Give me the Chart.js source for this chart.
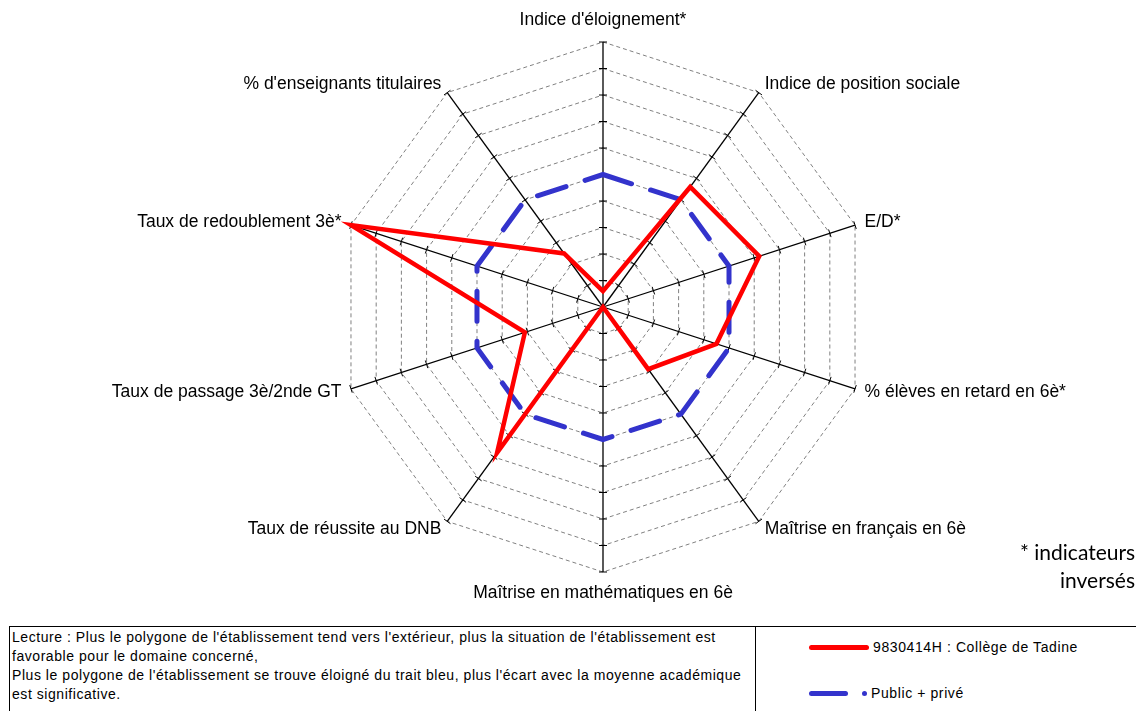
<!DOCTYPE html>
<html>
<head>
<meta charset="utf-8">
<script src="https://cdn.jsdelivr.net/npm/chart.js@4.4.1/dist/chart.umd.min.js"></script>
<style>
  html, body { margin: 0; padding: 0; background: #fff; overflow: hidden; }
  body { width: 1136px; height: 711px; position: relative; font-family: "Liberation Sans", Arial, sans-serif; }
  #chart { position: absolute; left: 0; top: 0; }
  .note { position: absolute; font-family: Lato, "Open Sans", sans-serif; font-size: 21px; line-height: 28px; color: #000; white-space: nowrap; }
  #box { position: absolute; left: 9px; top: 626px; width: 1140px; height: 100px; border-top: 1px solid #000; border-left: 1px solid #000; }
  #lecture { position: absolute; left: 0; top: 0; width: 746px; height: 100px; border-right: 1px solid #000; font-size: 14px; letter-spacing: 0.55px; line-height: 19px; padding: 1px 0 0 2px; box-sizing: border-box; color: #000; white-space: nowrap; }
  #legend { position: absolute; left: 799px; top: 0; font-size: 14px; letter-spacing: 0.6px; color: #000; }
  .item { position: absolute; left: 0; white-space: nowrap; display: flex; align-items: center; }
  .item span { display: inline-block; }
</style>
</head>
<body>
<canvas id="chart" width="1136" height="620"></canvas>
<div class="note" style="left:1020px;top:538px">* indicateurs</div>
<div class="note" style="left:1060px;top:566px">inversés</div>
<div id="box">
  <div id="lecture">Lecture : Plus le polygone de l'établissement tend vers l'extérieur, plus la situation de l'établissement est<br>favorable pour le domaine concerné,<br>Plus le polygone de l'établissement se trouve éloigné du trait bleu, plus l'écart avec la moyenne académique<br>est significative.</div>
  <div id="legend"></div>
</div>
<script>
const categories = [
  "Indice d'éloignement*",
  "Indice de position sociale",
  "E/D*",
  "% élèves en retard en 6è*",
  "Maîtrise en français en 6è",
  "Maîtrise en mathématiques en 6è",
  "Taux de réussite au DNB",
  "Taux de passage 3è/2nde GT",
  "Taux de redoublement 3è*",
  "% d'enseignants titulaires"
];
const collegeValues = [0.6, 5.6, 6.2, 4.5, 2.9, 0, 6.8, 3.1, 10, 2.5];
const academyValues = [5, 5, 5, 5, 5, 5, 5, 5, 5, 5];
const seriesNames = ["9830414H : Collège de Tadine", "Public + privé"];
const scaleMin = 0;
const scaleMax = 10;

const RED = "#ff0000";
const BLUE = "#3333cc";

// fixed geometry of the radar, like the original
const geometry = {
  id: "geometry",
  afterLayout(chart) {
    const s = chart.scales.r;
    s.xCenter = 603;
    s.yCenter = 307;
    s.drawingArea = 265;
  },
  beforeDatasetsDraw(chart) {
    // small tick marks across every spoke
    const s = chart.scales.r;
    const ctx = chart.ctx;
    ctx.save();
    ctx.strokeStyle = "#000";
    ctx.lineWidth = 1;
    for (let i = 0; i < categories.length; i++) {
      for (let v = scaleMin + 1; v <= scaleMax; v++) {
        const d = s.getDistanceFromCenterForValue(v);
        const p = s.getPointPosition(i, d);
        const a = s.getIndexAngle(i);
        const nx = Math.cos(a) * 4, ny = Math.sin(a) * 4;
        ctx.beginPath();
        ctx.moveTo(p.x - nx, p.y - ny);
        ctx.lineTo(p.x + nx, p.y + ny);
        ctx.stroke();
      }
    }
    // axis labels
    ctx.fillStyle = "#000";
    ctx.font = "17.5px 'Liberation Sans', Arial, sans-serif";
    ctx.textBaseline = "middle";
    for (let i = 0; i < categories.length; i++) {
      const p = s.getPointPosition(i, s.drawingArea + 10);
      const a = s.getIndexAngle(i);
      const sx = Math.sin(a);
      let y = p.y;
      if (Math.abs(sx) < 0.1) {
        ctx.textAlign = "center";
        y += Math.cos(a) > 0 ? -12 : 11;
      } else {
        ctx.textAlign = sx > 0 ? "left" : "right";
      }
      ctx.fillText(categories[i], p.x, y);
    }
    ctx.restore();
  }
};

const chart = new Chart(document.getElementById("chart"), {
  type: "radar",
  data: {
    labels: categories,
    datasets: [
      {
        label: seriesNames[0],
        data: collegeValues,
        borderColor: RED,
        borderWidth: 4.5,
        borderJoinStyle: "miter",
        fill: false,
        pointRadius: 0,
        order: 1
      },
      {
        label: seriesNames[1],
        data: academyValues,
        borderColor: BLUE,
        borderWidth: 5,
        borderDash: [30, 20],
        borderCapStyle: "round",
        fill: false,
        pointRadius: 0,
        order: 2
      }
    ]
  },
  options: {
    responsive: false,
    animation: false,
    devicePixelRatio: 1,
    plugins: {
      legend: { display: false },
      tooltip: { enabled: false }
    },
    elements: { line: { tension: 0 } },
    scales: {
      r: {
        min: scaleMin,
        max: scaleMax,
        ticks: { display: false, stepSize: 1 },
        pointLabels: { display: false },
        grid: { color: "#808080", lineWidth: 1 },
        border: { dash: [4, 3] },
        angleLines: { color: "#000", lineWidth: 1.3 }
      }
    }
  },
  plugins: [geometry]
});

// legend in the box, from the datasets
const legend = document.getElementById("legend");
chart.data.datasets.forEach((ds, i) => {
  const item = document.createElement("div");
  item.className = "item";
  item.style.top = (i === 0 ? 12 : 58) + "px";
  if (i === 0) {
    item.innerHTML = '<span style="width:60px;height:5px;border-radius:3px;background:' + ds.borderColor + '"></span>' +
      '<span style="margin-left:4px">' + ds.label + '</span>';
  } else {
    item.innerHTML = '<span style="width:39px;height:5px;border-radius:3px;background:' + ds.borderColor + '"></span>' +
      '<span style="margin-left:14px;width:5px;height:5px;border-radius:3px;background:' + ds.borderColor + '"></span>' +
      '<span style="margin-left:4px">' + ds.label + '</span>';
  }
  legend.appendChild(item);
});
</script>
</body>
</html>
